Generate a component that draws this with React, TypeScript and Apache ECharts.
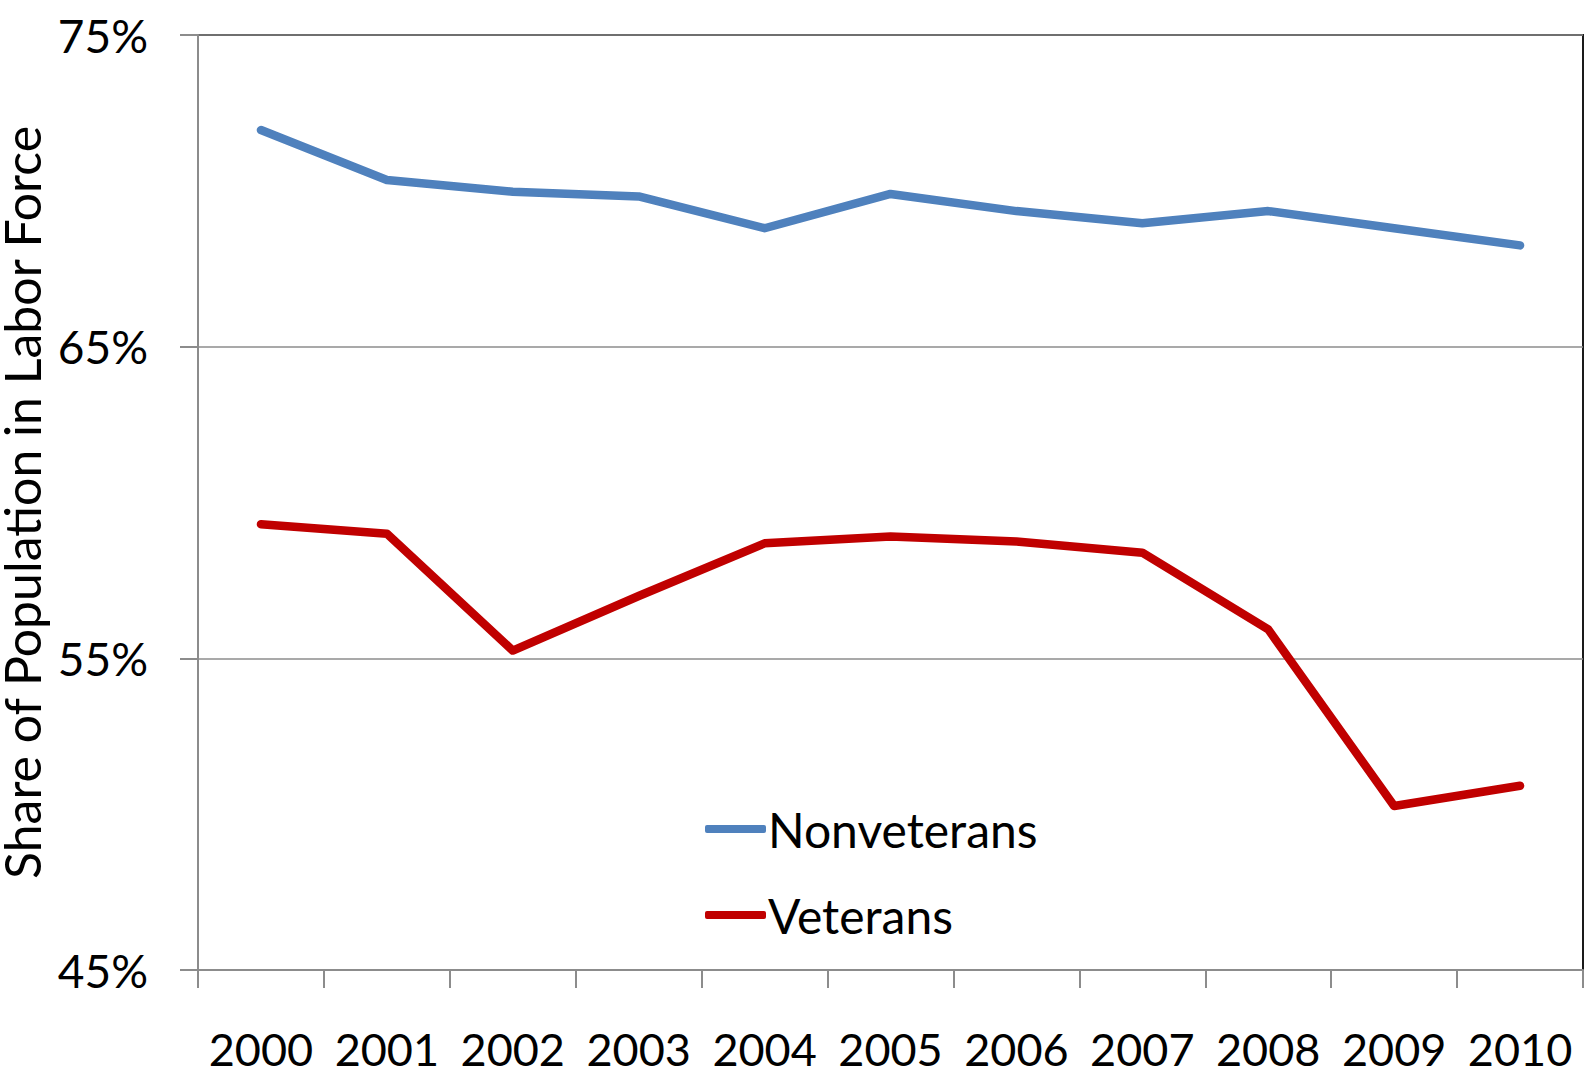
import React, { useEffect, useRef } from "react";
import * as echarts from "echarts";

const years = ["2000", "2001", "2002", "2003", "2004", "2005", "2006", "2007", "2008", "2009", "2010"];
const nonveterans = [71.95, 70.35, 69.97, 69.82, 68.8, 69.9, 69.35, 68.96, 69.35, 68.8, 68.25];
const veterans = [59.3, 59.0, 55.25, 57.0, 58.69, 58.91, 58.75, 58.39, 55.93, 50.26, 50.91];
const yMin = 45;
const yMax = 75;
const yStep = 10;
const yAxisTitle = "Share of Population in Labor Force";

const FONT = "Lato";
const GRAY = "#8c8c8c";

export default function App() {
  const ref = useRef<HTMLDivElement>(null);
  useEffect(() => {
    document.body.style.margin = "0";
    const chart = echarts.init(ref.current!, null, { renderer: "svg" });
    chart.setOption({
      animation: false,
      backgroundColor: "#ffffff",
      textStyle: { fontFamily: FONT },
      grid: {
        left: 198,
        right: 1,
        top: 35,
        bottom: 106,
        show: true,
        borderColor: "#1a1a1a",
        borderWidth: 2,
        containLabel: false,
        outerBoundsMode: "none",
      },
      legend: {
        orient: "vertical",
        left: 700,
        top: 799,
        icon: "roundRect",
        itemWidth: 61,
        itemHeight: 8,
        itemGap: 36,
        textStyle: { fontFamily: FONT, fontSize: 48, color: "#000", lineHeight: 50, padding: [0, 0, 0, -3] },
        data: ["Nonveterans", "Veterans"],
      },
      xAxis: {
        type: "category",
        data: years,
        boundaryGap: true,
        axisLine: { lineStyle: { color: GRAY, width: 2 } },
        axisTick: { show: true, length: 18, interval: 0, lineStyle: { color: GRAY, width: 2 } },
        axisLabel: { fontFamily: FONT, fontSize: 45, lineHeight: 36, color: "#000", margin: 61, interval: 0 },
        splitLine: { show: false },
      },
      yAxis: {
        type: "value",
        min: yMin,
        max: yMax,
        interval: yStep,
        name: yAxisTitle,
        nameLocation: "middle",
        nameRotate: 90,
        nameGap: 138,
        nameTextStyle: { fontFamily: FONT, fontSize: 50, lineHeight: 50, color: "#000" },
        axisLine: { show: true, lineStyle: { color: GRAY, width: 2 } },
        axisTick: { show: true, length: 18, lineStyle: { color: GRAY, width: 2 } },
        axisLabel: { fontFamily: FONT, fontSize: 46, color: "#000", margin: 50, formatter: "{value}%" },
        splitLine: { show: true, lineStyle: { color: GRAY, width: 1.5 } },
      },
      series: [
        {
          name: "Nonveterans",
          type: "line",
          data: nonveterans,
          symbol: "none",
          color: "#4F81BD",
          lineStyle: { color: "#4F81BD", width: 8.5, cap: "round", join: "round" },
        },
        {
          name: "Veterans",
          type: "line",
          data: veterans,
          symbol: "none",
          color: "#C00000",
          lineStyle: { color: "#C00000", width: 8.5, cap: "round", join: "round" },
        },
      ],
    });
    return () => chart.dispose();
  }, []);
  return (
    <div
      ref={ref}
      style={{ position: "absolute", left: 0, top: 0, width: 1584, height: 1076 }}
    />
  );
}
